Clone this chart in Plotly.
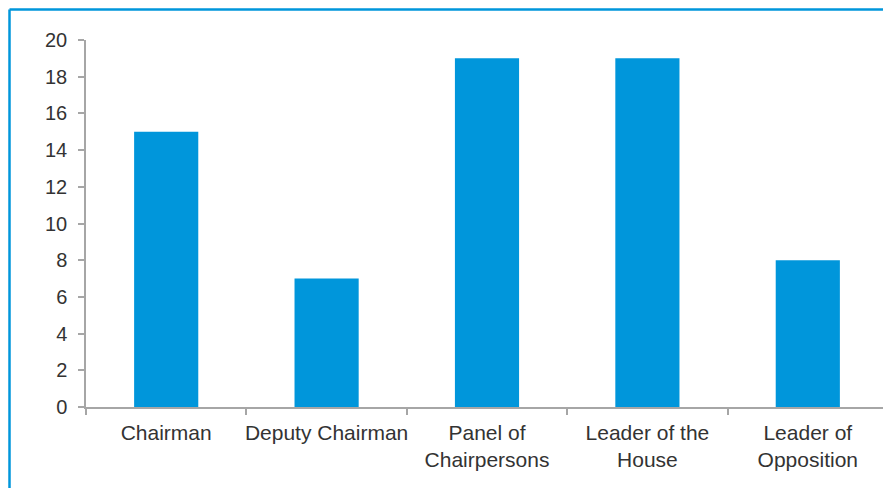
import plotly.graph_objects as go

categories = ["Chairman", "Deputy Chairman", "Panel of<br>Chairpersons", "Leader of the<br>House", "Leader of<br>Opposition"]
values = [15, 7, 19, 19, 8]
y_ticks = [0, 2, 4, 6, 8, 10, 12, 14, 16, 18, 20]

OFF = 8  # page body margin
W, H = 891 - OFF, 488 - OFF
ml, mr, mt, mb = 86 - OFF, 3, 40 - OFF, 81
pw, ph = W - ml - mr, H - mt - mb

def px_x(x):
    return (x - OFF - ml) / pw

def px_y(y):
    return 1 - (y - OFF - mt) / ph

fig = go.Figure(go.Bar(x=categories, y=values, marker=dict(color="#0096DB", line=dict(width=0)), width=0.4))

fig.update_layout(
    width=W, height=H,
    margin=dict(l=ml, r=mr, t=mt, b=mb, autoexpand=False),
    paper_bgcolor="white", plot_bgcolor="white",
    showlegend=False,
    font=dict(family="Liberation Sans, Arial, sans-serif", size=20, color="#333333"),
    bargap=0.6,
)
fig.update_yaxes(
    range=[0, 20], tickvals=y_ticks, showgrid=False, zeroline=False,
    showline=True, linecolor="#a6a6a6", linewidth=1.5,
    ticks="outside", ticklen=6, tickcolor="#a6a6a6", tickwidth=1.5,
    ticklabelstandoff=7, tickfont=dict(size=20), automargin=False,
)
fig.update_xaxes(
    showgrid=False, showline=True, linecolor="#a6a6a6", linewidth=1.5,
    ticks="outside", ticklen=6, tickcolor="#a6a6a6", tickwidth=1.5,
    tickson="boundaries", tickfont=dict(size=21), ticklabelstandoff=6,
    tickangle=0, automargin=False,
)
# outer blue border (top and left visible)
fig.add_shape(type="line", xref="paper", yref="paper",
              x0=px_x(9.5), x1=px_x(900), y0=px_y(9.5), y1=px_y(9.5),
              line=dict(color="#0096DB", width=2.5))
fig.add_shape(type="line", xref="paper", yref="paper",
              x0=px_x(9.5), x1=px_x(9.5), y0=px_y(9.5), y1=px_y(500),
              line=dict(color="#0096DB", width=2.5))

fig.write_html("out.html")
